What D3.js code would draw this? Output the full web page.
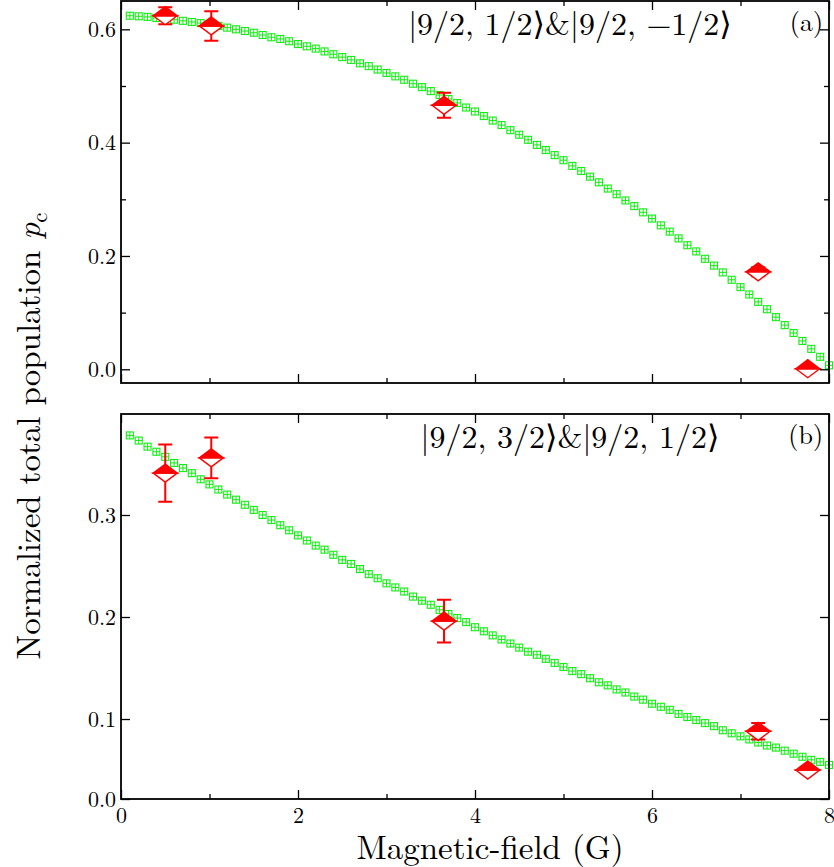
<!DOCTYPE html>
<html><head><meta charset="utf-8">
<script src="https://cdn.jsdelivr.net/npm/d3@7/dist/d3.min.js"></script>
<style>
html,body{margin:0;padding:0;background:#fff;}
svg{display:block;}
text{font-family:"Latin Modern Roman","CMU Serif","Liberation Serif","DejaVu Serif",serif;fill:#000;}
</style></head>
<body>
<script>
// ---------------- data ----------------
const thX = [0.1,0.2,0.3,0.4,0.5,0.6,0.7,0.8,0.9,1.0,
  1.1,1.2,1.3,1.4,1.5,1.6,1.7,1.8,1.9,2.0,
  2.1,2.2,2.3,2.4,2.5,2.6,2.7,2.8,2.9,3.0,
  3.1,3.2,3.3,3.4,3.5,3.6,3.7,3.8,3.9,4.0,
  4.1,4.2,4.3,4.4,4.5,4.6,4.7,4.8,4.9,5.0,
  5.1,5.2,5.3,5.4,5.5,5.6,5.7,5.8,5.9,6.0,
  6.1,6.2,6.3,6.4,6.5,6.6,6.7,6.8,6.9,7.0,
  7.1,7.2,7.3,7.4,7.5,7.6,7.7,7.8,7.9,8.0];
const theoryA = [0.624,0.623,0.622,0.620,0.619,0.617,0.615,0.613,0.611,0.608,
  0.606,0.603,0.600,0.597,0.594,0.590,0.586,0.583,0.579,0.574,
  0.570,0.566,0.561,0.556,0.551,0.546,0.540,0.535,0.529,0.523,
  0.517,0.511,0.504,0.498,0.491,0.484,0.477,0.470,0.462,0.455,
  0.447,0.439,0.431,0.422,0.414,0.405,0.396,0.387,0.378,0.369,
  0.359,0.350,0.340,0.330,0.319,0.309,0.298,0.288,0.277,0.266,
  0.254,0.243,0.231,0.219,0.208,0.195,0.183,0.171,0.158,0.145,
  0.132,0.119,0.106,0.092,0.078,0.064,0.050,0.036,0.022,0.007];
const theoryB = [0.378,0.373,0.367,0.362,0.357,0.351,0.346,0.341,0.335,0.330,
  0.325,0.320,0.315,0.310,0.305,0.300,0.295,0.290,0.285,0.280,
  0.275,0.270,0.266,0.261,0.256,0.252,0.247,0.242,0.238,0.233,
  0.229,0.225,0.220,0.216,0.212,0.207,0.203,0.199,0.195,0.190,
  0.186,0.182,0.178,0.174,0.170,0.166,0.163,0.159,0.155,0.151,
  0.147,0.144,0.140,0.136,0.133,0.129,0.126,0.122,0.119,0.115,
  0.112,0.109,0.105,0.102,0.099,0.096,0.093,0.089,0.086,0.083,
  0.080,0.077,0.074,0.072,0.069,0.066,0.063,0.060,0.058,0.055];

const expX = [0.5, 1.02, 3.65, 7.2, 7.76];
const expA = [0.624, 0.606, 0.466, 0.172, 0.001];
const errA = [0.015, 0.026, 0.022, 0.008, 0.002];
const expB = [0.341, 0.356, 0.196, 0.088, 0.050];
const errB = [0.028, 0.020, 0.021, 0.008, 0.003];

const xTicksMajor = [0, 2, 4, 6, 8];
const xTicksMinor = [1, 3, 5, 7];
const yTicksA = [0.0, 0.2, 0.4, 0.6];
const yTicksAMinor = [0.1, 0.3, 0.5];
const yTicksB = [0.0216, 0.1, 0.2, 0.3];
const yTickLabelsB = ["0.0", "0.1", "0.2", "0.3"];
const labelA = "|9/2, 1/2\u27E9&|9/2, \u22121/2\u27E9";
const labelB = "|9/2, 3/2\u27E9&|9/2, 1/2\u27E9";
const xTitle = "Magnetic-field (G)";
const yTitle = "Normalized total population ";

// ---------------- layout ----------------
const W = 834, H = 867;
const svg = d3.select("body").append("svg").attr("width", W).attr("height", H);
const x = d3.scaleLinear().domain([0, 8]).range([121, 829]);
const yA = d3.scaleLinear().domain([-0.0242, 0.650]).range([383, 1]);
const yB = d3.scaleLinear().domain([0.0216, 0.399]).range([799, 414]);
const RED = "#ff0000", GREEN = "#10f010";

function panel(y, yMajor, yMinor, yFmt, showX, theory, expY, expE, label, tag, labelY, tagY) {
  const g = svg.append("g");
  const [y0, y1] = y.range();
  const sq = g.append("g");
  thX.forEach((xv, i) => {
    const cx = x(xv), cy = y(theory[i]);
    sq.append("rect").attr("x", cx - 3.5).attr("y", cy - 3.5).attr("width", 7).attr("height", 7)
      .attr("fill", "none").attr("stroke", GREEN).attr("stroke-width", 1.1);
    sq.append("path").attr("d", `M${cx - 3.5},${cy}H${cx + 3.5}M${cx},${cy - 3.5}V${cy + 3.5}`)
      .attr("stroke", GREEN).attr("stroke-width", 1);
  });
  const ex = g.append("g");
  expX.forEach((xv, i) => {
    const cx = x(xv), cy = y(expY[i]);
    const yt = y(expY[i] + expE[i]), yb = y(expY[i] - expE[i]);
    ex.append("path").attr("d", `M${cx},${yt}V${yb}M${cx - 7},${yt}H${cx + 7}M${cx - 7},${yb}H${cx + 7}`)
      .attr("stroke", RED).attr("stroke-width", 2).attr("fill", "none");
    ex.append("path").attr("d", `M${cx - 12},${cy}L${cx},${cy + 9}L${cx + 12},${cy}Z`)
      .attr("fill", "#fff").attr("stroke", RED).attr("stroke-width", 1.4);
    ex.append("path").attr("d", `M${cx - 12},${cy}L${cx},${cy - 9}L${cx + 12},${cy}Z`)
      .attr("fill", RED).attr("stroke", RED).attr("stroke-width", 1.4);
  });
  const ax = g.append("g");
  ax.append("g").attr("transform", `translate(${x.range()[0]},0)`)
    .call(d3.axisLeft(y).tickValues(yMajor).tickSize(-9).tickPadding(5).tickFormat(yFmt));
  ax.append("g").attr("transform", `translate(${x.range()[0]},0)`)
    .call(d3.axisLeft(y).tickValues(yMinor).tickSize(-5).tickFormat(""));
  ax.append("g").attr("transform", `translate(${x.range()[1]},0)`)
    .call(d3.axisRight(y).tickValues(yMajor).tickSize(-9).tickFormat(""));
  ax.append("g").attr("transform", `translate(${x.range()[1]},0)`)
    .call(d3.axisRight(y).tickValues(yMinor).tickSize(-5).tickFormat(""));
  ax.append("g").attr("transform", `translate(0,${y0})`)
    .call(d3.axisBottom(x).tickValues(xTicksMajor).tickSize(-9).tickPadding(8)
      .tickFormat(showX ? d3.format("d") : ""));
  ax.append("g").attr("transform", `translate(0,${y0})`)
    .call(d3.axisBottom(x).tickValues(xTicksMinor).tickSize(-5).tickFormat(""));
  ax.append("g").attr("transform", `translate(0,${y1})`)
    .call(d3.axisTop(x).tickValues(xTicksMajor).tickSize(-9).tickFormat(""));
  ax.append("g").attr("transform", `translate(0,${y1})`)
    .call(d3.axisTop(x).tickValues(xTicksMinor).tickSize(-5).tickFormat(""));
  ax.selectAll(".domain").remove();
  ax.selectAll(".tick line").attr("stroke", "#000").attr("stroke-width", 1.3);
  ax.selectAll("text").attr("font-size", 22).attr("font-family", null);
  g.append("rect").attr("x", x.range()[0]).attr("y", y1).attr("width", x.range()[1] - x.range()[0])
    .attr("height", y0 - y1).attr("fill", "none").attr("stroke", "#000").attr("stroke-width", 1.8);
  g.append("text").attr("x", 570).attr("y", labelY).attr("text-anchor", "middle")
    .attr("font-size", 32).text(label);
  g.append("text").attr("x", 823).attr("y", tagY).attr("text-anchor", "end")
    .attr("font-size", 26).text(tag);
}

const fmt1 = d3.format(".1f");
panel(yA, yTicksA, yTicksAMinor, fmt1, false, theoryA, expA, errA, labelA, "(a)", 35, 31);
panel(yB, yTicksB, [], (d, i) => yTickLabelsB[i], true, theoryB, expB, errB, labelB, "(b)", 448, 444);

svg.append("text").attr("x", 490).attr("y", 859).attr("text-anchor", "middle")
  .attr("font-size", 33).text(xTitle);
const yt = svg.append("text").attr("transform", "translate(40,436) rotate(-90)")
  .attr("text-anchor", "middle").attr("font-size", 33);
yt.append("tspan").text(yTitle);
yt.append("tspan").attr("font-style", "italic").text("p");
yt.append("tspan").attr("font-size", 23).attr("dy", 7).text("c");
</script>
</body></html>
